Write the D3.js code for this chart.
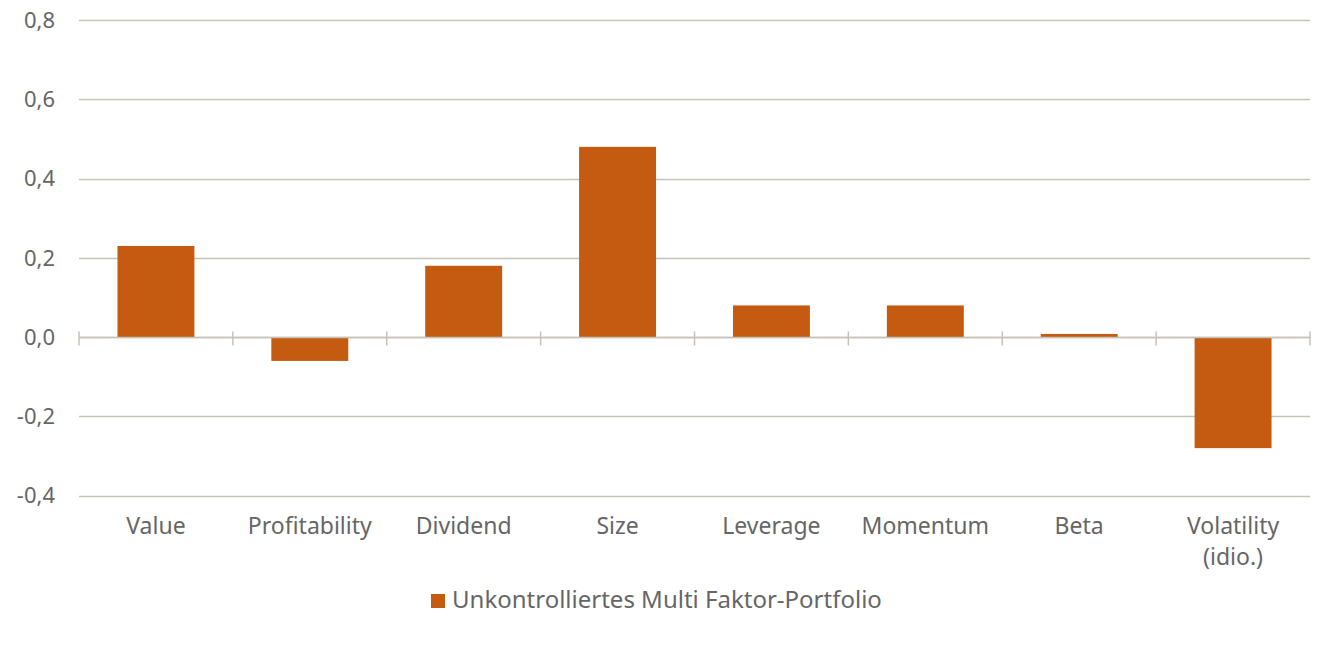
<!DOCTYPE html>
<html>
<head>
<meta charset="utf-8">
<script src="https://cdn.jsdelivr.net/npm/d3@7"></script>
<style>
  body { margin: 0; background: #fff; }
  svg text { font-family: "Noto Sans", sans-serif; fill: #666666; }
</style>
</head>
<body>
<div id="chart"></div>
<script>
var width = 1337;
var height = 648;

var categories = ["Value", "Profitability", "Dividend", "Size", "Leverage", "Momentum", "Beta", "Volatility\n(idio.)"];
var values = [0.23, -0.06, 0.18, 0.48, 0.08, 0.08, 0.008, -0.28];
var yTicks = [-0.4, -0.2, 0.0, 0.2, 0.4, 0.6, 0.8];
var seriesName = "Unkontrolliertes Multi Faktor-Portfolio";

var barColor = "#c55a11";
var gridColor = "#c6c2b8";

var data = categories.map(function(c, i) {
    return { category: c, value: values[i] };
});

var svg = d3.select("#chart")
    .append("svg")
    .attr("width", width)
    .attr("height", height);

var xScale = d3.scaleBand()
    .domain(categories)
    .range([79, 1310])
    .paddingInner(0.5)
    .paddingOuter(0.25);

var yScale = d3.scaleLinear()
    .domain([-0.4, 0.8])
    .range([495.7, 20]);

var fmt = function(d) { return d3.format(".1f")(d).replace(".", ",").replace("−", "-"); };

// gridlines
svg.append("g")
    .selectAll("line")
    .data(yTicks)
    .enter().append("line")
    .attr("x1", 79)
    .attr("x2", 1310)
    .attr("y1", function(d) { return Math.round(yScale(d)) + 0.5; })
    .attr("y2", function(d) { return Math.round(yScale(d)) + 0.5; })
    .attr("stroke", gridColor)
    .attr("stroke-width", 1.5);

// y labels
svg.append("g")
    .selectAll("text")
    .data(yTicks)
    .enter().append("text")
    .attr("x", 55)
    .attr("y", function(d) { return yScale(d); })
    .attr("dy", "0.35em")
    .attr("text-anchor", "end")
    .attr("font-size", 22)
    .text(fmt);

// bars
svg.selectAll(".bar")
    .data(data)
    .enter().append("rect")
    .attr("class", "bar")
    .attr("x", function(d) { return xScale(d.category); })
    .attr("width", xScale.bandwidth())
    .attr("y", function(d) { return yScale(Math.max(0, d.value)); })
    .attr("height", function(d) { return Math.abs(yScale(d.value) - yScale(0)); })
    .attr("fill", barColor);

// zero axis with category separators
var zeroY = Math.round(yScale(0)) + 0.5;
svg.append("line")
    .attr("x1", 79).attr("x2", 1310)
    .attr("y1", zeroY).attr("y2", zeroY)
    .attr("stroke", gridColor)
    .attr("stroke-width", 1.5);

var step = xScale.step();
var sepX = d3.range(categories.length + 1).map(function(i) { return 79 + i * step; });
svg.append("g")
    .selectAll("line")
    .data(sepX)
    .enter().append("line")
    .attr("x1", function(d) { return d; })
    .attr("x2", function(d) { return d; })
    .attr("y1", zeroY - 6)
    .attr("y2", zeroY + 8)
    .attr("stroke", gridColor)
    .attr("stroke-width", 1.5);

// category labels
var labels = svg.append("g")
    .selectAll("text")
    .data(data)
    .enter().append("text")
    .attr("x", function(d) { return xScale(d.category) + xScale.bandwidth() / 2; })
    .attr("y", 534)
    .attr("text-anchor", "middle")
    .attr("font-size", 23);

labels.selectAll("tspan")
    .data(function(d) { return d.category.split("\n"); })
    .enter().append("tspan")
    .attr("x", function() { return d3.select(this.parentNode).attr("x"); })
    .attr("dy", function(d, i) { return i === 0 ? 0 : 31; })
    .text(function(d) { return d; });

// legend
var legend = svg.append("g");
legend.append("rect")
    .attr("x", 431)
    .attr("y", 594)
    .attr("width", 14)
    .attr("height", 14)
    .attr("fill", barColor);
legend.append("text")
    .attr("x", 452)
    .attr("y", 608)
    .attr("font-size", 24)
    .text(seriesName);
</script>
</body>
</html>
